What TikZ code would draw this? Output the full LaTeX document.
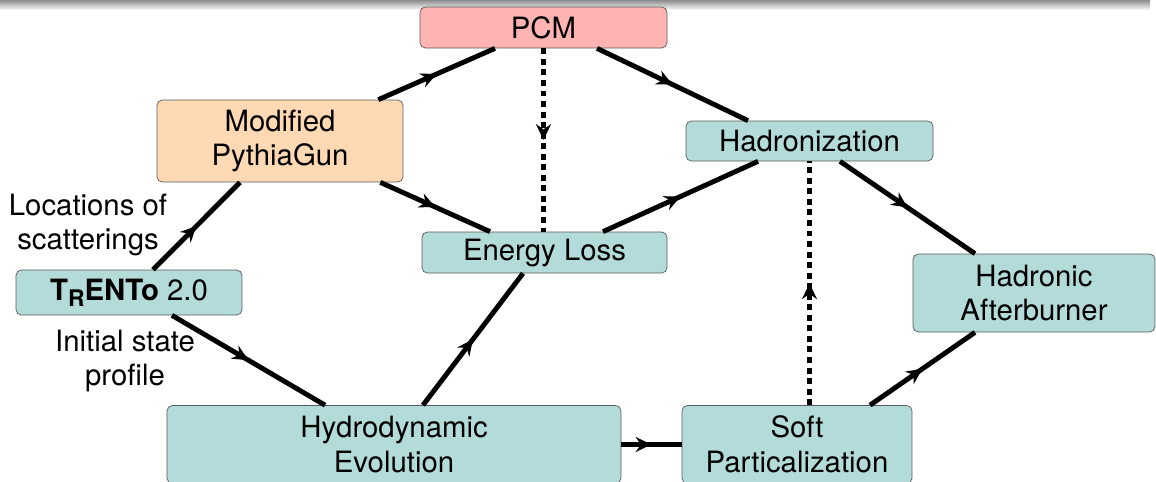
\documentclass[tikz,border=0pt]{standalone}
\usepackage{fontspec}
\setmainfont{TeX Gyre Heros}
\usepackage{xcolor}
\usepackage{tikz}
\usetikzlibrary{positioning,arrows.meta,decorations.markings,calc}

\definecolor{boxteal}{RGB}{179,219,217}
\definecolor{boxpink}{RGB}{255,179,179}
\definecolor{boxpeach}{RGB}{255,217,179}

\begin{document}
\begin{tikzpicture}[
    x=0.02cm, y=-0.02cm,
    stage/.style    = {rectangle, rounded corners=3pt, draw=black!65, thin,
                       fill=boxteal, align=center, inner sep=0pt,
                       font=\fontsize{16.7pt}{19.8pt}\selectfont},
    pcmbox/.style   = {stage, fill=boxpink},
    gunbox/.style   = {stage, fill=boxpeach},
    note/.style     = {align=center, font=\fontsize{16.7pt}{19.8pt}\selectfont},
    flow/.style     = {line width=2.8pt, postaction={decorate},
                       decoration={markings, mark=at position 0.5 with
                       {\arrow{Stealth[length=9pt, width=8.5pt, inset=3pt]}}}},
    feed/.style     = {flow, dash pattern=on 3.4pt off 2.6pt},
]
\useasboundingbox (0,0) rectangle (1156,481);

% =============================== frame bar ====================================
\shade[top color=black!45, bottom color=white] (0,0) rectangle (1150,10);

% =============================== stages =======================================
\node[pcmbox, minimum width=4.94cm, minimum height=0.82cm] (pcm) at (543.5,27.5) {PCM};
\node[gunbox, minimum width=4.92cm, minimum height=1.64cm] (gun) at (280,141)
     {Modified\\PythiaGun};
\node[stage, minimum width=4.94cm, minimum height=0.80cm] (hadron) at (809.5,141)
     {Hadronization};
\node[stage, minimum width=4.90cm, minimum height=0.82cm] (eloss) at (544.5,252.5)
     {Energy Loss};
\node[stage, minimum width=4.52cm, minimum height=0.90cm] (trento) at (129,292.5)
     {\textbf{T}\raisebox{-0.4ex}{\textbf{\fontsize{13pt}{14pt}\selectfont R}}\textbf{ENTo} 2.0};
\node[stage, minimum width=4.84cm, minimum height=1.56cm] (after) at (1034,293)
     {Hadronic\\Afterburner};
\node[stage, minimum width=9.08cm, minimum height=1.56cm] (hydro) at (394,444.5)
     {Hydrodynamic\\Evolution};
\node[stage, minimum width=4.60cm, minimum height=1.56cm] (soft) at (797,444.5)
     {Soft\\Particalization};

% labels on the initial-state links
\node[note] (lscat) at (88,225) {Locations of\\scatterings};
\node[note] (lprof) at (125,361) {Initial state\\profile};

% =============================== links ========================================
\draw[flow] ([xshift=0.48cm]trento.north) -- ([xshift=-0.8cm]gun.south);
\draw[flow] ([xshift=0.86cm]trento.south) -- ([xshift=-1.38cm]hydro.north);
\draw[flow] ([xshift=-0.5cm]gun.north east) -- ([xshift=-0.97cm]pcm.south);
\draw[flow] ([xshift=-0.46cm]gun.south east) -- ([xshift=-1.09cm]eloss.north);
\draw[flow] ([xshift=1.07cm]pcm.south) -- ([xshift=-1.23cm]hadron.north);
\draw[feed] (pcm.south) -- (pcm.south |- eloss.north);
\draw[flow] ([xshift=1.17cm]eloss.north) -- ([xshift=-1.03cm]hadron.south);
\draw[flow] ([xshift=0.61cm]hadron.south) -- ([xshift=-1.18cm]after.north);
\draw[flow] ([xshift=0.58cm]hydro.north) -- ([xshift=-0.43cm]eloss.south);
\draw[flow] (hydro.east) -- (soft.west);
\draw[feed] (soft.north -| hadron.south) -- (hadron.south);
\draw[flow] ([xshift=1.46cm]soft.north) -- ([xshift=-1.18cm]after.south);

\end{tikzpicture}
\end{document}
